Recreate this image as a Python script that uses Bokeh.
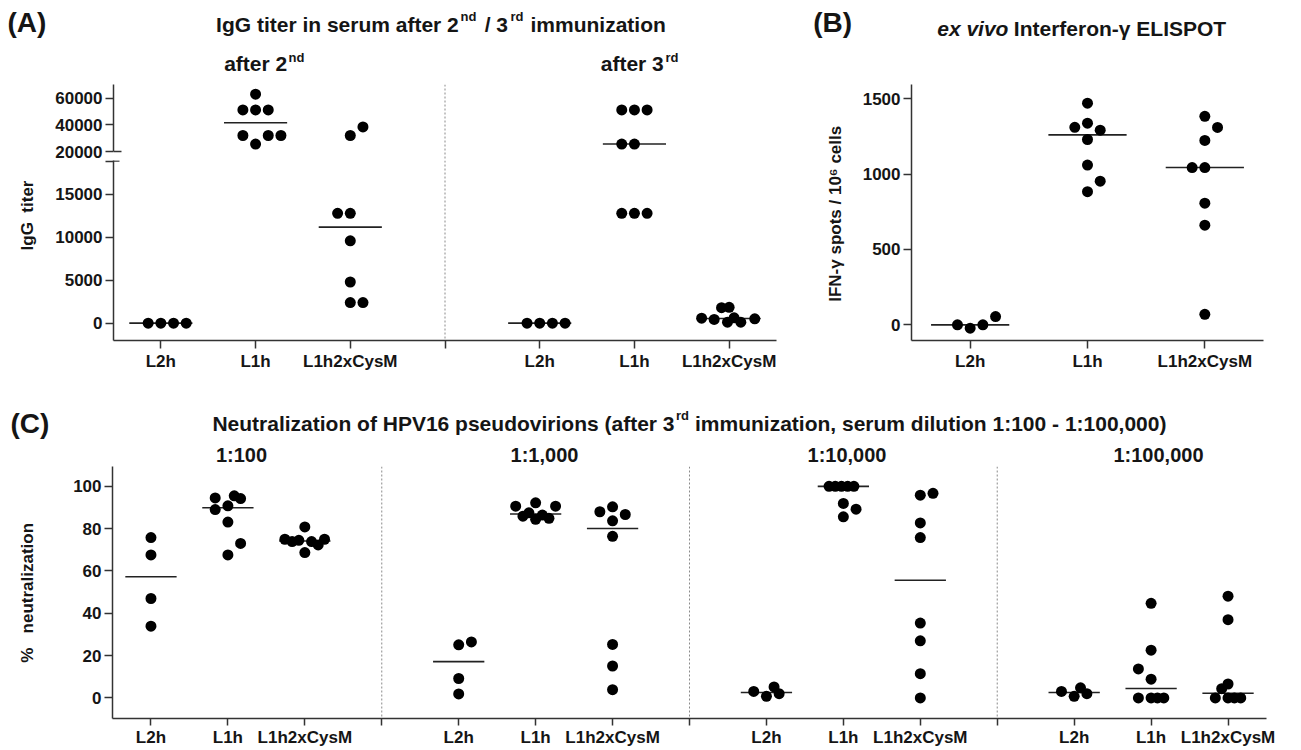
import numpy as np
from bokeh.plotting import figure
from bokeh.layouts import column, row
from bokeh.models import Range1d, FixedTicker, CustomJSTickFormatter, Span
from bokeh.core.properties import value
from bokeh.embed import file_html
from bokeh.resources import INLINE

FONT = "Liberation Sans"
TXT = "#151515"
AX = "#333333"
NB = "\u00a0"
MID_TO_BASE = 0.3465  # (ascent - (ascent + descent) / 2) of the font, in em

# ---------------- data ----------------
GROUP_LABELS = ["L2h", "L1h", "L1h2xCysM"]

# (A) IgG titer after 2nd / 3rd immunization
titer_2nd_L2h = [0, 0, 0, 0]
titer_2nd_L1h = [63000, 51200, 51200, 51200, 32000, 32000, 32000, 25600]
titer_2nd_Cys = [32000, 38400, 12800, 12800, 9600, 4800, 2400, 2400]
titer_3rd_L2h = [0, 0, 0, 0]
titer_3rd_L1h = [51200, 51200, 51200, 25600, 25600, 12800, 12800, 12800]
titer_3rd_Cys = [1800, 1850, 580, 430, 110, 630, 110, 510]

# (B) ex vivo IFN-gamma ELISPOT (spots / 10^6 cells)
ifn_L2h = [0, -22, 0, 55]
ifn_L1h = [1471, 1311, 1338, 1292, 1230, 1060, 953, 884]
ifn_Cys = [1384, 1310, 1224, 1044, 1044, 807, 661, 70]

# (C) % neutralization at serum dilutions
neut_100_L2h = [75.8, 67.6, 47.0, 33.9]
neut_100_L1h = [94.5, 95.5, 94.2, 89.0, 90.8, 83.1, 73.0, 67.6]
neut_100_Cys = [75.0, 73.9, 74.5, 80.8, 73.9, 72.3, 75.0, 68.7]
neut_1k_L2h = [25.1, 26.5, 9.2, 1.9]
neut_1k_L1h = [90.6, 92.2, 90.6, 85.9, 87.5, 84.4, 86.4, 84.9]
neut_1k_Cys = [88.0, 90.3, 86.7, 83.7, 76.4, 25.3, 15.1, 3.9]
neut_10k_L2h = [3.1, 0.8, 5.2, 2.0]
neut_10k_L1h = [100, 100, 100, 100, 100, 91.9, 89.2, 85.6]
neut_10k_Cys = [95.8, 96.7, 82.7, 75.8, 35.4, 27.0, 11.5, 0.0]
neut_100k_L2h = [3.1, 0.8, 4.8, 2.0]
neut_100k_L1h = [44.7, 22.6, 13.7, 8.9, 0, 0, 0, 0]
neut_100k_Cys = [48.1, 37.0, 6.6, 4.4, 0, 0, 0, 0]

DILUTIONS = ["1:100", "1:1,000", "1:10,000", "1:100,000"]

# horizontal spread of tied dots, in dot widths (scatter-plot layout)
spread_2nd_L2h = [-1, 0, 1, 2]
spread_2nd_L1h = [0, -1, 0, 1, -1, 1, 2, 0]
spread_2nd_Cys = [0, 1, -1, 0, 0, 0, 0, 1]
spread_3rd_L2h = [-1, 0, 1, 2]
spread_3rd_L1h = [-1, 0, 1, -1, 0, -1, 0, 1]
spread_3rd_Cys = [-0.6, 0, -2.17, -1.18, -0.13, 0.39, 0.92, 2.02]
spread_ifn_L2h = [-1, 0, 1, 2]
spread_ifn_L1h = [0, -1, 0, 1, 0, 0, 1, 0]
spread_ifn_Cys = [0, 1, 0, -1, 0, 0, 0, 0]
spread_100_L2h = [0, 0, 0, 0]
spread_100_L1h = [-1, 0.5, 1, -1, 0, 0, 1, 0]
spread_100_Cys = [-1.57, -1.0, -0.47, 0, 0.53, 1.05, 1.55, 0]
spread_1k_L2h = [0, 1, 0, 0]
spread_1k_L1h = [-1.57, 0, 1.57, -1, -0.53, 0, 0.53, 1.05]
spread_1k_Cys = [-1, 0, 1, 0, 0, 0, 0, 0]
spread_10k_L2h = [-1, 0, 0.6, 1]
spread_10k_L1h = [-1.13, -0.64, -0.15, 0.34, 0.83, 0, 1, 0]
spread_10k_Cys = [0, 1, 0, 0, 0, 0, 0, 0]
spread_100k_L2h = [-1, 0, 0.5, 1]
spread_100k_L1h = [0, 0, -1, 0, -1, 0, 0.5, 1]
spread_100k_Cys = [0, 0, 0, -0.5, -1, 0, 0.5, 1]

DOT_STEP = 12.7  # px between neighbouring tied dots
DOT_SIZE = 11


# ---------------- helpers ----------------
def cat_formatter(labels):
    return CustomJSTickFormatter(args=dict(labels=labels), code="""
const i = Math.round(tick);
if (Math.abs(tick - i) > 1e-6 || i < 1 || i > labels.length) return "";
return labels[i - 1];
""")


def num_formatter(hide_above=None):
    if hide_above is None:
        return CustomJSTickFormatter(code="return tick.toFixed(0);")
    return CustomJSTickFormatter(args=dict(h=hide_above),
                                 code="return (tick > h) ? '' : tick.toFixed(0);")


def make_fig(w, h, xr, yr, bl, br, bt, bb, xaxis=True):
    p = figure(width=w, height=h, x_range=xr, y_range=yr,
               output_backend="svg", toolbar_location=None,
               x_axis_location="below" if xaxis else None,
               min_border_left=bl, min_border_right=br,
               min_border_top=bt, min_border_bottom=bb)
    p.outline_line_color = None
    p.grid.visible = False
    p.background_fill_color = "white"
    p.border_fill_color = "white"
    for ax in p.axis:
        ax.axis_line_color = AX
        ax.axis_line_width = 1.5
        ax.major_tick_line_color = AX
        ax.major_tick_line_width = 1.5
        ax.major_tick_out = 8
        ax.major_tick_in = 0
        ax.minor_tick_out = 0
        ax.minor_tick_in = 0
        ax.major_label_text_font = FONT
        ax.major_label_text_font_style = "bold"
        ax.major_label_text_font_size = "17px"
        ax.major_label_text_color = TXT
        ax.major_label_standoff = 3
    return p


def text_fig(w, h, xr, yr):
    """Blank canvas; its ranges give page pixels (y downwards) over its frame."""
    p = figure(width=w, height=h, x_range=Range1d(*xr), y_range=Range1d(*yr),
               output_backend="svg", toolbar_location=None,
               x_axis_location=None, y_axis_location=None,
               min_border_left=0, min_border_right=0,
               min_border_top=0, min_border_bottom=0)
    p.outline_line_color = None
    p.grid.visible = False
    p.background_fill_color = "white"
    p.border_fill_color = "white"
    return p


def draw_group(p, xc, vals, spread, ppu, lo=-np.inf, hi=np.inf):
    m = float(np.median(vals))
    if lo <= m <= hi:
        p.segment(x0=[xc - 1 / 3], x1=[xc + 1 / 3], y0=[m], y1=[m],
                  line_color="#222222", line_width=1.6)
    xs = [xc + s * DOT_STEP / ppu for s, v in zip(spread, vals) if lo <= v <= hi]
    ys = [v for v in vals if lo <= v <= hi]
    if xs:
        p.scatter(xs, ys, size=DOT_SIZE, fill_color="black", line_color="black",
                  line_width=0)


def label(p, x, base_y, text, size, align="left", style="bold"):
    """Horizontal text whose baseline lies at base_y (page px)."""
    p.text(x=[x], y=[base_y - MID_TO_BASE * size], text=[text],
           text_font=value(FONT), text_font_size=value(f"{size}px"),
           text_font_style=value(style), text_align=value(align),
           text_baseline=value("middle"), text_color=TXT)


def vlabel(p, x, y, text, size):
    """Vertical (bottom-to-top) text centred on (x, y)."""
    p.text(x=[x], y=[y], text=[text], text_font=value(FONT),
           text_font_size=value(f"{size}px"), text_font_style=value("bold"),
           text_align=value("center"), text_baseline=value("middle"),
           text_color=TXT, angle=np.pi / 2)


def sep(p, x):
    p.add_layout(Span(location=x, dimension="height", line_color="#8a8a8a",
                      line_width=1, line_dash="2 2"))


W = 1300

# ---------------- header of A and B ----------------
h1 = text_fig(W, 83, (0, W), (83, 0))
label(h1, 7, 31.7, "(A)", 28)
label(h1, 458.3, 31.7, "IgG titer in serum after 2", 21, align="right")
label(h1, 460, 21, "nd", 13)
label(h1, 507.5, 31.7, "/ 3", 21, align="right")
label(h1, 510, 21, "rd", 13)
label(h1, 530, 31.7, "immunization", 21)
label(h1, 286.7, 70.7, "after 2", 21, align="right")
label(h1, 288, 62, "nd", 13)
label(h1, 663.3, 70.7, "after 3", 21, align="right")
label(h1, 665, 62, "rd", 13)
label(h1, 812.7, 32, "(B)", 28)
label(h1, 936.7, 35, "ex vivo", 21, style="bold italic")
label(h1, 1013.3, 35, "Interferon-γ ELISPOT", 21)

# ---------------- panel A (broken y axis) ----------------
A_W, A_BL, A_BR = 748, 60, 24
xrA = Range1d(0.5, 7.5)
ppuA = (A_W - A_BL - A_BR) / 7.0
catsA = GROUP_LABELS + [""] + GROUP_LABELS
groupsA = [
    (1, titer_2nd_L2h, spread_2nd_L2h), (2, titer_2nd_L1h, spread_2nd_L1h),
    (3, titer_2nd_Cys, spread_2nd_Cys), (5, titer_3rd_L2h, spread_3rd_L2h),
    (6, titer_3rd_L1h, spread_3rd_L1h), (7, titer_3rd_Cys, spread_3rd_Cys),
]

# frames in a row are aligned: the row's frames span page y 84 .. 340
tA = text_fig(52, 307, (0, 52), (340, 84))
vlabel(tA, 26.7, 215, "IgG" + NB + NB + "titer", 17)

# upper segment 20000 - 70000
pAu = make_fig(A_W, 77, xrA, Range1d(13250, 70250), A_BL, A_BR, 1, 0, xaxis=False)
pAu.yaxis.ticker = FixedTicker(ticks=[20000, 40000, 60000], minor_ticks=[])
pAu.yaxis.formatter = num_formatter()
pAu.yaxis.bounds = (20000, 70250)
sep(pAu, 4)
pAu.segment(x0=[0.5], x1=[0.5 + 8 / ppuA], y0=[20000], y1=[20000],
            line_color=AX, line_width=1.5)
for xc, v, s in groupsA:
    draw_group(pAu, xc, v, s, ppuA, lo=20000)

# lower segment 0 - 19000
pAl = make_fig(A_W, 230, xrA, Range1d(-2020, 18963), A_BL, A_BR, 0, 50)
pAl.yaxis.ticker = FixedTicker(ticks=[0, 5000, 10000, 15000, 18900], minor_ticks=[])
pAl.yaxis.formatter = num_formatter(hide_above=18000)
pAl.xaxis.ticker = FixedTicker(ticks=list(range(1, 8)), minor_ticks=[])
pAl.xaxis.formatter = cat_formatter(catsA)
sep(pAl, 4)
pAl.segment(x0=[0.5], x1=[0.5 + 6 / ppuA], y0=[18900], y1=[18900],
            line_color=AX, line_width=1.5)
for xc, v, s in groupsA:
    draw_group(pAl, xc, v, s, ppuA, hi=19000)

# ---------------- panel B ----------------
tB = text_fig(48, 307, (800, 848), (340, 84))
vlabel(tB, 835, 213.3, "IFN-γ spots / 10⁶ cells", 17)

pB = make_fig(W - 848, 307, Range1d(0.5, 3.5), Range1d(-104, 1595), 63,
              W - 848 - 63 - 352, 1, 50)
ppuB = 352 / 3.0
pB.yaxis.ticker = FixedTicker(ticks=[0, 500, 1000, 1500], minor_ticks=[])
pB.yaxis.formatter = num_formatter()
pB.xaxis.ticker = FixedTicker(ticks=[1, 2, 3], minor_ticks=[])
pB.xaxis.formatter = cat_formatter(GROUP_LABELS)
for xc, v, s in [(1, ifn_L2h, spread_ifn_L2h), (2, ifn_L1h, spread_ifn_L1h),
                 (3, ifn_Cys, spread_ifn_Cys)]:
    draw_group(pB, xc, v, s, ppuB)

# ---------------- header of C ----------------
h2 = text_fig(W, 76, (0, W), (466, 390))
label(h2, 10, 433, "(C)", 28)
label(h2, 674, 430, "Neutralization of HPV16 pseudovirions (after 3", 21,
      align="right")
label(h2, 675.5, 420, "rd", 13)
label(h2, 694.5, 430, "immunization, serum dilution 1:100 - 1:100,000)", 21)
for cx, txt in zip([241, 544, 846.5, 1158], DILUTIONS):
    label(h2, cx, 461.5, txt, 20, align="center")

# ---------------- panel C ----------------
# frames in this row span page y 466 .. 720
tC = text_fig(52, 283, (0, 52), (720, 466))
vlabel(tC, 27, 593.3, "%" + NB + NB + NB + "neutralization", 17)

C_ZERO, C_PX = 699.3, 2.133
pC = make_fig(W - 52, 283, Range1d(0.5, 15.5),
              Range1d(-(720 - C_ZERO) / C_PX, (C_ZERO - 466) / C_PX),
              60, W - 52 - 60 - 1154, 0, 29)
ppuC = 1154 / 15.0
pC.yaxis.ticker = FixedTicker(ticks=[0, 20, 40, 60, 80, 100], minor_ticks=[])
pC.yaxis.formatter = num_formatter()
pC.xaxis.ticker = FixedTicker(ticks=list(range(1, 16)), minor_ticks=[])
pC.xaxis.formatter = cat_formatter(GROUP_LABELS + [""] + GROUP_LABELS + [""] +
                                   GROUP_LABELS + [""] + GROUP_LABELS)
pC.xaxis.major_tick_out = 7
pC.xaxis.major_label_standoff = 2
for xs in (4, 8, 12):
    sep(pC, xs)
groupsC = [
    (1, neut_100_L2h, spread_100_L2h), (2, neut_100_L1h, spread_100_L1h),
    (3, neut_100_Cys, spread_100_Cys),
    (5, neut_1k_L2h, spread_1k_L2h), (6, neut_1k_L1h, spread_1k_L1h),
    (7, neut_1k_Cys, spread_1k_Cys),
    (9, neut_10k_L2h, spread_10k_L2h), (10, neut_10k_L1h, spread_10k_L1h),
    (11, neut_10k_Cys, spread_10k_Cys),
    (13, neut_100k_L2h, spread_100k_L2h), (14, neut_100k_L1h, spread_100k_L1h),
    (15, neut_100k_Cys, spread_100k_Cys),
]
for xc, v, s in groupsC:
    draw_group(pC, xc, v, s, ppuC)

layout = column(
    h1,
    row(tA, column(pAu, pAl), tB, pB),
    h2,
    row(tC, pC),
)
open("out.html", "w").write(file_html(layout, INLINE))
